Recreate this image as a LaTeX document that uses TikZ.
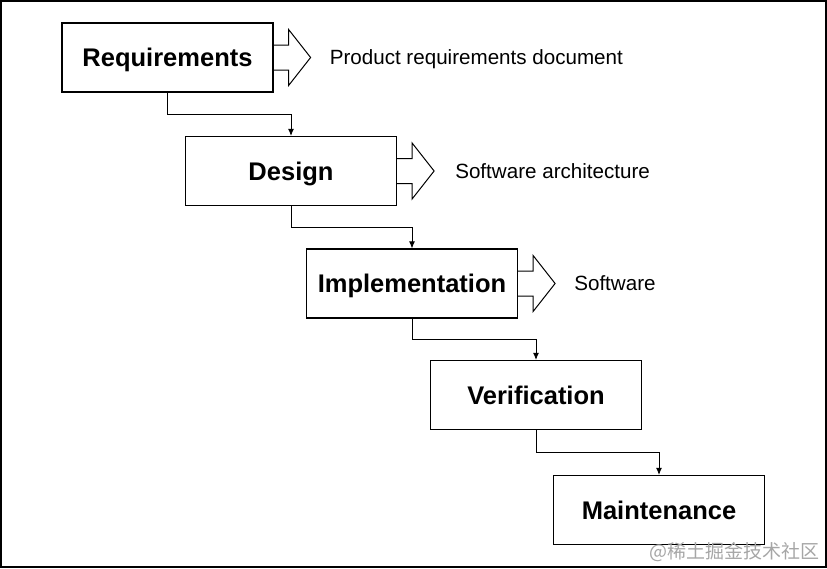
\documentclass[tikz,border=0pt]{standalone}
\usepackage{fontspec}
\setmainfont{Liberation Sans}
\newfontfamily\cjk{Noto Sans CJK SC}
\usetikzlibrary{positioning,calc,arrows.meta}
\tikzset{
  phase/.style={draw,line width=1.2pt,minimum width=211pt,minimum height=69pt,
    text height=18.4pt,text depth=0pt,
    font=\fontsize{25.5}{30}\selectfont\bfseries},
  output/.style={inner sep=0pt,text height=14.8pt,text depth=0pt,
    font=\fontsize{20.6}{25}\selectfont},
  flow/.style={line width=0.9pt,-{Latex[length=7pt,width=6pt]}},
  outarrow/.pic={
    \draw[line width=1pt] (0,-12.5) -- (15,-12.5) -- (15,-28) -- (37,0)
      -- (15,28) -- (15,12.5) -- (0,12.5);
  }
}
\begin{document}
\begin{tikzpicture}[x=1pt,y=-1pt]
\useasboundingbox (0,0) rectangle (827,568);
\draw[line width=2pt] (1,1) rectangle (826,567);
% the five phases
\node[phase] (req) at (167.5,57.5) {Requirements};
\node[phase] (des) at (291,171)    {Design};
\node[phase] (imp) at (412,283.5)  {Implementation};
\node[phase] (ver) at (536,395)    {Verification};
\node[phase] (mnt) at (659,510)    {Maintenance};
% outputs
\pic at (req.east) {outarrow};
\pic at (des.east) {outarrow};
\pic at (imp.east) {outarrow};
\node[output,right=56pt of req.east] (reqout) {Product requirements document};
\node[output,right=58pt of des.east] (desout) {Software architecture};
\node[output,right=56pt of imp.east] (impout) {Software};
% flow between phases
\draw[flow] (req.south) |- ($(req.south)!.5!(des.north)$) -| (des.north);
\draw[flow] (des.south) |- ($(des.south)!.5!(imp.north)$) -| (imp.north);
\draw[flow] (imp.south) |- ($(imp.south)!.5!(ver.north)$) -| (ver.north);
\draw[flow] (ver.south) |- ($(ver.south)!.5!(mnt.north)$) -| (mnt.north);
\node[anchor=east,inner sep=0pt,text=black!35,font=\cjk\fontsize{19}{22}\selectfont]
  (mark) at (820,552) {@稀土掘金技术社区};
\end{tikzpicture}
\end{document}
